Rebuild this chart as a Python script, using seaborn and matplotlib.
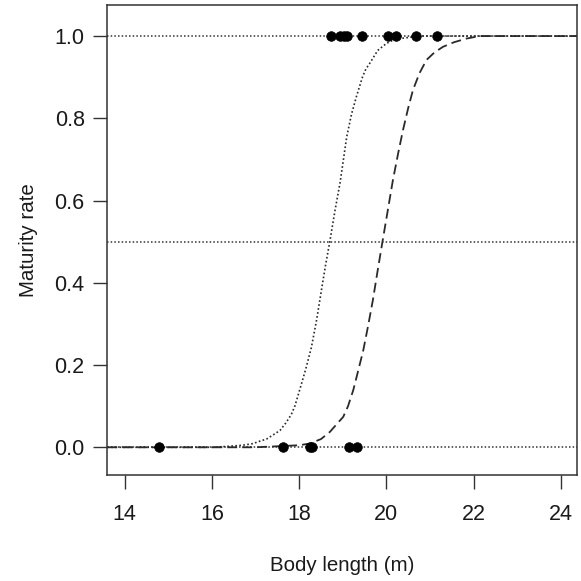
import matplotlib
matplotlib.use("Agg")
import matplotlib.pyplot as plt
import seaborn as sns
import pandas as pd

# observed individuals (body length, maturity 0/1)
mature_len = [18.74, 18.93, 19.02, 19.10, 19.45, 20.04, 20.22, 20.67, 21.16]
immature_len = [14.79, 17.62, 18.24, 18.30, 19.15, 19.33]

# fitted curve, dotted
dot_x = [13.6, 16.0, 16.33, 16.7, 16.94, 17.1, 17.25, 17.4, 17.56, 17.7,
         17.82, 17.9, 18.01, 18.15, 18.28, 18.4, 18.51, 18.6, 18.70, 18.82,
         18.94, 19.09, 19.2, 19.31, 19.45, 19.53, 19.62, 19.8, 20.00, 20.15,
         20.31, 20.77, 24.4]
dot_y = [0.0, 0.0, 0.002, 0.005, 0.009, 0.015, 0.02, 0.03, 0.041, 0.06,
         0.08, 0.10, 0.139, 0.19, 0.243, 0.31, 0.382, 0.44, 0.499, 0.575,
         0.645, 0.755, 0.81, 0.852, 0.90, 0.92, 0.934, 0.965, 0.982, 0.99,
         0.994, 1.0, 1.0]

# fitted curve, dashed
dash_x = [13.6, 17.0, 17.6, 18.0, 18.24, 18.5, 18.70, 18.85, 19.01, 19.12,
          19.24, 19.35, 19.47, 19.58, 19.69, 19.8, 19.91, 20.03, 20.15, 20.27,
          20.38, 20.5, 20.61, 20.76, 20.92, 21.1, 21.30, 21.55, 21.84, 22.14,
          24.4]
dash_y = [0.0, 0.0, 0.003, 0.005, 0.009, 0.02, 0.037, 0.055, 0.074, 0.10,
          0.139, 0.185, 0.236, 0.295, 0.358, 0.43, 0.50, 0.575, 0.650, 0.715,
          0.771, 0.825, 0.869, 0.91, 0.942, 0.96, 0.974, 0.985, 0.994, 1.0,
          1.0]

ref_levels = [0.0, 0.5, 1.0]
x_ticks = [14, 16, 18, 20, 22, 24]
y_ticks = [0.0, 0.2, 0.4, 0.6, 0.8, 1.0]

sns.set_style("ticks")
plt.rcParams['font.family'] = ['Liberation Sans', 'DejaVu Sans']

pts = pd.DataFrame({
    "length": mature_len + immature_len,
    "rate": [1.0] * len(mature_len) + [0.0] * len(immature_len),
})

fig = plt.figure(figsize=(5.81, 5.81), dpi=100)
ax = fig.add_axes([0.184, 0.182, 0.809, 0.809])

for lv in ref_levels:
    ax.axhline(lv, color="#333333", lw=1.1, linestyle=(0, (1, 1.4)), zorder=1)

sns.lineplot(x=dot_x, y=dot_y, ax=ax, color="#2a2a2a", lw=1.2,
             linestyle=(0, (1, 1.4)), estimator=None, sort=False, zorder=2)
sns.lineplot(x=dash_x, y=dash_y, ax=ax, color="#2a2a2a", lw=1.3,
             linestyle=(0, (5.5, 2.8)), estimator=None, sort=False, zorder=2)
sns.scatterplot(data=pts, x="length", y="rate", ax=ax, color="black",
                s=48, edgecolor="black", linewidth=0.5, zorder=3)

ax.set_xlim(13.59, 24.37)
ax.set_ylim(-0.068, 1.075)
ax.set_xticks(x_ticks)
ax.set_xticklabels([str(t) for t in x_ticks])
ax.set_yticks(y_ticks)
ax.set_yticklabels([f"{t:.1f}" for t in y_ticks])
ax.tick_params(axis="both", length=10, width=1, color="#333333",
               labelsize=15.5, labelcolor="#1a1a1a", pad=6)
ax.tick_params(axis="x", pad=11)
for sp in ax.spines.values():
    sp.set_visible(True)
    sp.set_color("#333333")
    sp.set_linewidth(1.1)

ax.set_xlabel("Body length (m)", fontsize=14.8, color="#1a1a1a", labelpad=22)
ax.set_ylabel("Maturity rate", fontsize=14.8, color="#1a1a1a", labelpad=12)

fig.savefig("out.png", dpi=100)
plt.close(fig)
